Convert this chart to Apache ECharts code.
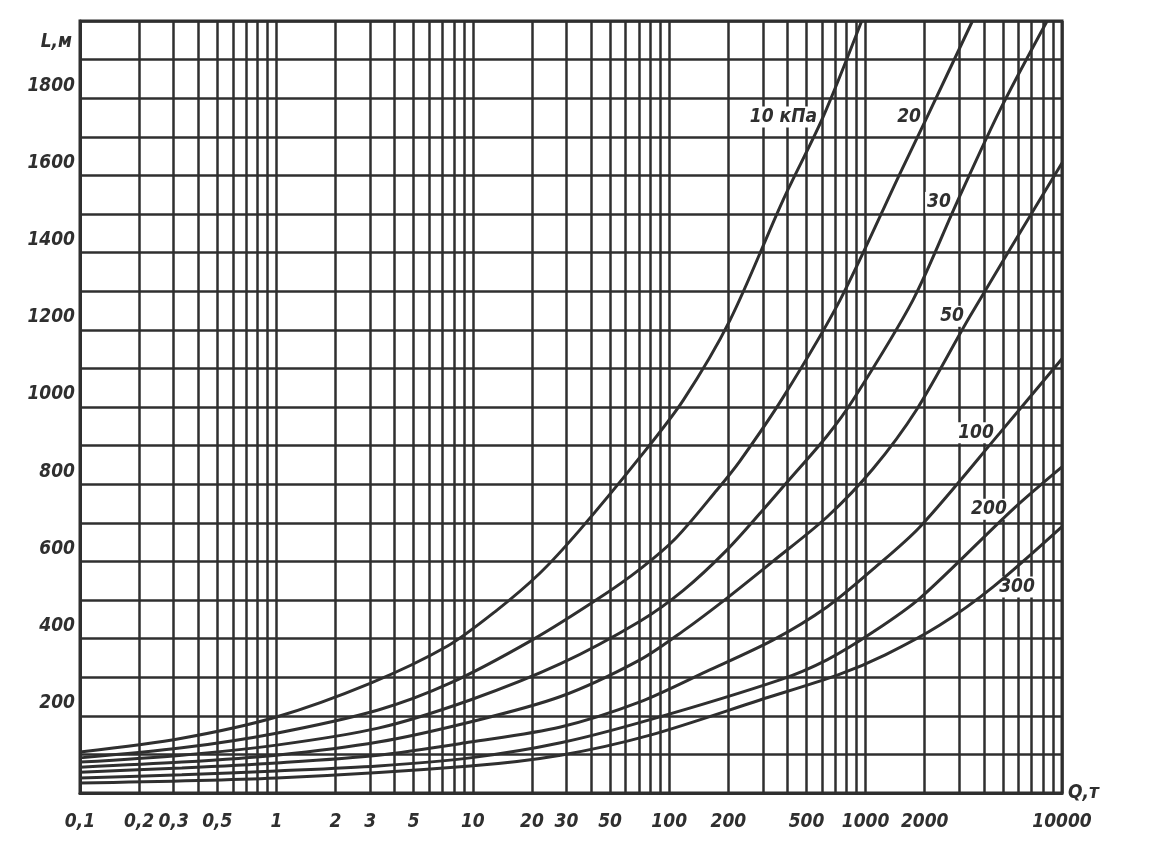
<!DOCTYPE html>
<html>
<head>
<meta charset="utf-8">
<script src="https://cdn.jsdelivr.net/npm/echarts@6/dist/echarts.min.js"></script>
<style>
html,body{margin:0;padding:0;background:#fff;}
#chart{width:1160px;height:844px;}
</style>
</head>
<body>
<div id="chart"></div>
<script>
// ---- data: [Q, т ; L, м] ----
const curveNames = ['10 кПа', '20', '30', '50', '100', '200', '300'];
const curve10  = [[0.1,106],[0.33,142],[1,197],[3,284],[7.4,380],[13,470],[22,570],[35,681],[71,870],[118,1018],[204,1225],[380,1536],[607,1751],[955,2000]];
const curve20  = [[0.1,91],[0.33,117],[1,155],[3.3,215],[7.7,285],[20,396],[44,505],[71,580],[108,660],[175,785],[229,860],[380,1025],[741,1277],[1500,1606],[2055,1751],[3500,2000]];
const curve30  = [[0.1,80],[0.33,98],[1,124],[3.3,168],[9.7,241],[28,335],[71,445],[118,525],[197,630],[300,733],[398,805],[636,925],[863,1018],[1742,1277],[2918,1530],[4830,1769],[8400,2000]];
const curve50  = [[0.1,67],[0.33,80],[1,98],[3.3,132],[9.7,184],[28,250],[71,345],[118,420],[197,505],[337,600],[636,715],[1091,840],[1828,995],[3400,1235],[10000,1632]];
const curve100 = [[0.1,54],[0.33,65],[1,78],[3.3,98],[9.7,132],[28,171],[71,236],[155,315],[337,396],[636,482],[1091,580],[1894,690],[4830,933],[10000,1125]];
const curve200 = [[0.1,39],[0.33,47],[1,57],[3.3,70],[9.7,91],[28,130],[80,190],[366,293],[636,345],[1091,417],[1894,505],[5620,735],[10000,845]];
const curve300 = [[0.1,26],[1,39],[9.7,70],[28,98],[80,150],[290,241],[724,306],[1260,358],[2390,435],[4460,534],[10000,690]];
const curves = [curve10, curve20, curve30, curve50, curve100, curve200, curve300];
// index of the point each curve's label is attached to, and side
const labelIndex = [12, 14, 14, 13, 12, 11, 9];
const labelSide  = ['left','left','left','left','left','left','right'];

// tick labels
const xLabelValues = [0.1,0.2,0.3,0.5,1,2,3,5,10,20,30,50,100,200,500,1000,2000,10000];
const yLabelValues = [200,400,600,800,1000,1200,1400,1600,1800];
// log grid lines inside each decade
const xMinorGrid = [0.2,0.3,0.4,0.5,0.6,0.7,0.8,0.9,
                    2,3,4,5,6,7,8,9,
                    20,30,40,50,60,70,80,90,
                    200,300,400,500,600,700,800,900,
                    2000,3000,4000,5000,6000,7000,8000,9000];

const INK = '#2f2f2f';
const FONT = "'Liberation Sans Narrow','DejaVu Sans Condensed','DejaVu Sans',sans-serif";
const txt = {fontFamily: FONT, fontStyle: 'italic', fontWeight: 'bold', fontSize: 19, color: INK};

const series = curves.map((c, i) => {
  const s = {
    name: curveNames[i],
    type: 'line',
    data: c,
    smooth: 0.3,
    showSymbol: false,
    silent: true,
    z: 5,
    lineStyle: {color: INK, width: 3},
    markPoint: {
      symbol: 'circle', symbolSize: 0.1,
      itemStyle: {color: 'transparent'},
      silent: true,
      label: Object.assign({show: true, position: labelSide[i], distance: 4,
        formatter: curveNames[i], backgroundColor: '#fff', padding: [1, 2]}, txt),
      data: [{coord: c[labelIndex[i]]}]
    }
  };
  if (i === 0) {
    s.markLine = {
      silent: true, symbol: 'none', animation: false,
      label: {show: false},
      lineStyle: {color: INK, width: 2.5, type: 'solid'},
      data: xMinorGrid.map(v => ({xAxis: v}))
    };
  }
  return s;
});

const chart = echarts.init(document.getElementById('chart'), null, {renderer: 'canvas'});
chart.setOption({
  animation: false,
  backgroundColor: '#fff',
  grid: {left: 80, right: 98, top: 21, bottom: 51, show: true, borderColor: INK, borderWidth: 3, backgroundColor: 'transparent'},
  xAxis: {
    type: 'log', logBase: 10, min: 0.1, max: 10000,
    name: 'Q,т', nameLocation: 'end', nameGap: 6,
    nameTextStyle: Object.assign({verticalAlign: 'middle', align: 'left'}, txt),
    axisLine: {show: true, lineStyle: {color: INK, width: 3}},
    axisTick: {show: false},
    splitLine: {show: true, lineStyle: {color: INK, width: 2.5}},
    axisLabel: Object.assign({
      customValues: xLabelValues,
      margin: 20,
      formatter: v => String(v).replace('.', ',')
    }, txt)
  },
  yAxis: {
    type: 'value', min: 0, max: 2000, interval: 100,
    name: 'L,м', nameLocation: 'end', nameGap: -21,
    nameTextStyle: Object.assign({align: 'right', verticalAlign: 'middle', padding: [0, 8, 0, 0]}, txt),
    axisLine: {show: true, lineStyle: {color: INK, width: 3}},
    axisTick: {show: false},
    splitLine: {show: true, lineStyle: {color: INK, width: 2.5}},
    axisLabel: Object.assign({
      margin: 5,
      verticalAlign: 'bottom',
      padding: [0, 0, 3, 0],
      formatter: v => (yLabelValues.indexOf(v) >= 0 ? String(v) : '')
    }, txt)
  },
  series: series
});
</script>
</body>
</html>
